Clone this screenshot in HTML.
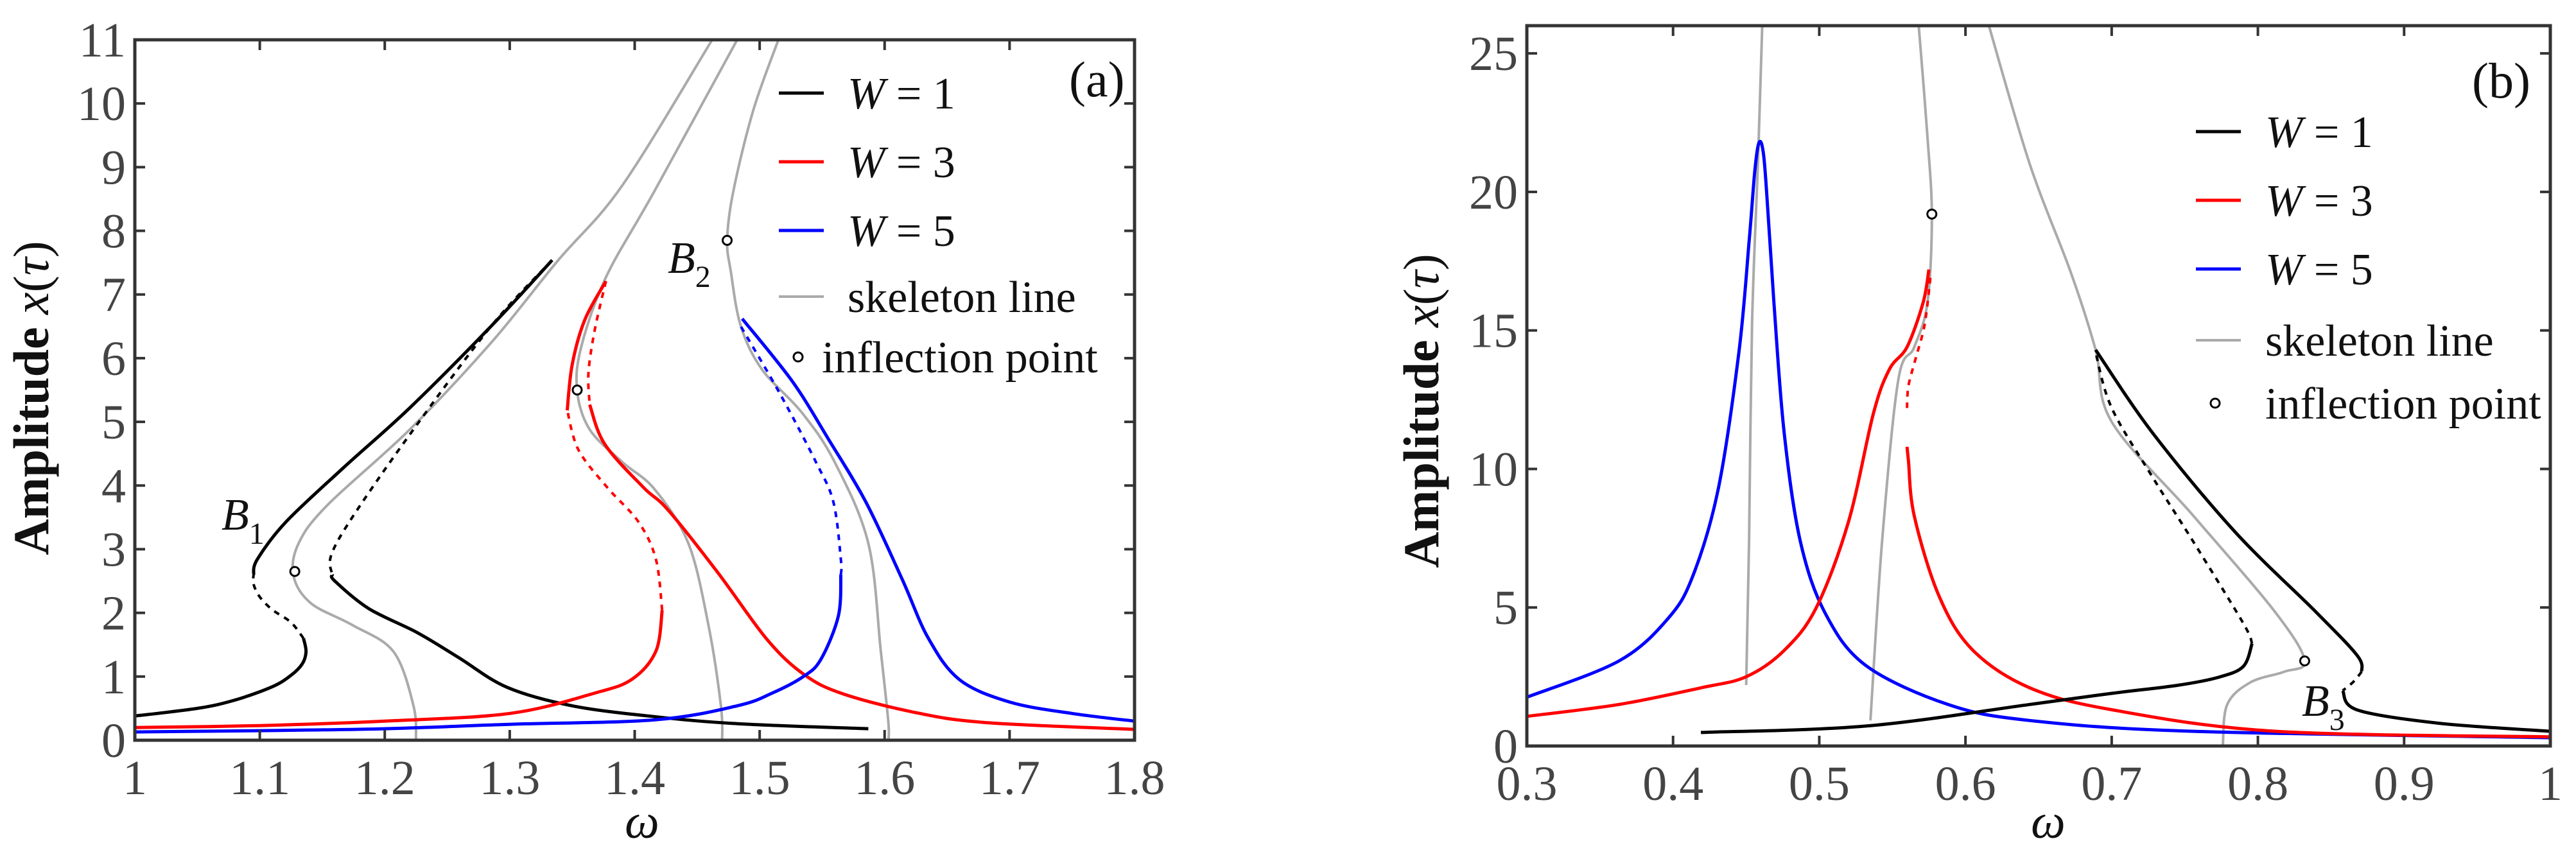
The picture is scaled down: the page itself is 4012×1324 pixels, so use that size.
<!DOCTYPE html>
<html><head><meta charset="utf-8"><style>
html,body{margin:0;padding:0;background:#fff;}
svg{display:block;}
svg text{font-family:"Liberation Serif","DejaVu Serif",serif;}
.tick{font-size:76px;fill:#444;}
.leg{font-size:70px;fill:#111;}
</style></head><body>
<svg id="chart" width="4012" height="1324" viewBox="0 0 4012 1324" xmlns="http://www.w3.org/2000/svg">
<g id="pa"></g>
<g id="pb"></g>
</svg>
<script>
// ---------- Panel (a) data ----------
const aXTicks = [1,1.1,1.2,1.3,1.4,1.5,1.6,1.7,1.8];
const aXTickLabels = ["1","1.1","1.2","1.3","1.4","1.5","1.6","1.7","1.8"];
const aYTicks = [0,1,2,3,4,5,6,7,8,9,10,11];
// W=1
const a1LowOm = [1,1.05,1.08,1.11,1.125,1.134,1.137,1.135];
const a1LowA  = [0.38,0.5,0.63,0.84,1.02,1.2,1.39,1.6];
const a1DashLOm = [1.135,1.125,1.11,1.1,1.095,1.095];
const a1DashLA  = [1.6,1.85,2.05,2.25,2.45,2.6];
const a1UpOm = [1.095,1.098,1.121,1.167,1.22,1.285,1.334];
const a1UpA  = [2.6,2.84,3.43,4.28,5.22,6.5,7.54];
const a1DashUOm = [1.334,1.285,1.22,1.174,1.157,1.158];
const a1DashUA  = [7.54,6.5,4.8,3.5,2.9,2.6];
const a1RightOm = [1.158,1.16,1.187,1.226,1.259,1.298,1.35,1.416,1.482,1.587];
const a1RightA  = [2.6,2.5,2.07,1.69,1.3,0.83,0.54,0.37,0.26,0.18];
// W=3
const a3LowOm = [1,1.1,1.2,1.3,1.368,1.398,1.417,1.422];
const a3LowA  = [0.2,0.23,0.3,0.42,0.74,0.96,1.4,2.04];
const a3DashLOm = [1.422,1.417,1.403,1.378,1.355,1.346];
const a3DashLA  = [2.04,2.84,3.43,3.97,4.56,5.18];
const a3UpOm = [1.346,1.35,1.36,1.377];
const a3UpA  = [5.18,5.9,6.6,7.21];
const a3DashUOm = [1.377,1.368,1.363,1.364];
const a3DashUA  = [7.21,6.44,5.77,5.27];
const a3RightOm = [1.364,1.376,1.407,1.427,1.467,1.506,1.535,1.565,1.621,1.679,1.8];
const a3RightA  = [5.27,4.65,3.97,3.61,2.62,1.58,1.04,0.74,0.45,0.28,0.17];
// W=5
const a5LowOm = [1,1.1,1.2,1.3,1.416,1.482,1.51,1.535,1.549,1.563,1.565];
const a5LowA  = [0.13,0.15,0.18,0.25,0.32,0.54,0.74,1.0,1.27,1.95,2.6];
const a5DashOm = [1.565,1.565,1.559,1.545,1.516,1.484];
const a5DashA  = [2.6,2.84,3.74,4.37,5.45,6.53];
const a5UpOm = [1.486,1.526,1.555,1.585,1.614,1.635,1.66,1.7,1.75,1.8];
const a5UpA  = [6.62,5.64,4.73,3.74,2.53,1.6,0.95,0.6,0.42,0.3];
// skeletons
const aS1Om = [1.225,1.223,1.207,1.174,1.141,1.127,1.131,1.154,1.22,1.285,1.338,1.39,1.462];
const aS1A  = [0,0.54,1.39,1.81,2.15,2.58,3.09,3.69,4.88,6.24,7.52,8.71,11];
const aS2Om = [1.47,1.469,1.459,1.443,1.416,1.39,1.364,1.354,1.357,1.377,1.416,1.482];
const aS2A  = [0,0.54,1.81,3.09,3.94,4.37,4.88,5.48,6.16,7.27,8.63,11];
const aS3Om = [1.603,1.603,1.597,1.587,1.56,1.534,1.502,1.485,1.477,1.474,1.479,1.495,1.515];
const aS3A  = [0,0.28,1.39,3.09,4.37,5.14,5.82,6.5,7.35,7.86,8.63,9.9,11];
const aInflOm = [1.128,1.354,1.474];
const aInflA  = [2.65,5.5,7.85];

// ---------- Panel (b) data ----------
const bXTicks = [0.3,0.4,0.5,0.6,0.7,0.8,0.9,1];
const bXTickLabels = ["0.3","0.4","0.5","0.6","0.7","0.8","0.9","1"];
const bYTicks = [0,5,10,15,20,25];
const b5Om = [0.3,0.363,0.397,0.414,0.431,0.445,0.452,0.456,0.459,0.462,0.465,0.469,0.476,0.487,0.504,0.532,0.588,0.644,0.756,1.0];
const b5A  = [1.76,3.07,4.63,6.2,9.3,14.2,18.2,20.8,21.8,21.3,19.2,16.0,11.3,7.4,4.8,2.9,1.5,0.92,0.53,0.3];
const b3LOm = [0.3,0.363,0.419,0.45,0.476,0.498,0.52,0.537,0.548,0.56,0.571,0.575];
const b3LA  = [1.07,1.5,2.1,2.5,3.45,5.0,8.1,12.0,13.6,14.4,16.0,17.2];
const b3DashOm = [0.576,0.572,0.566,0.561,0.56];
const b3DashA  = [16.9,15.2,14.0,13.0,12.2];
const b3ROm = [0.56,0.561,0.565,0.582,0.605,0.644,0.7,0.812,1.0];
const b3RA  = [10.8,10.3,8.3,5.4,3.46,2.1,1.31,0.53,0.33];
const b1LowOm = [0.419,0.532,0.644,0.7,0.745,0.773,0.79,0.796];
const b1LowA  = [0.49,0.72,1.5,1.9,2.19,2.48,2.87,3.7];
const b1DashOm = [0.796,0.79,0.756,0.728,0.7,0.689];
const b1DashA  = [3.7,4.43,7.36,9.7,12.2,14.2];
const b1UpOm = [0.689,0.728,0.784,0.84,0.868,0.871];
const b1UpA  = [14.3,11.3,7.75,4.82,3.26,2.68];
const b1Dash2Om = [0.871,0.865,0.858];
const b1Dash2A  = [2.68,2.3,2.0];
const b1RightOm = [0.858,0.868,0.924,1.0];
const b1RightA  = [2.0,1.3,0.82,0.53];
const bS1Om = [0.45,0.452,0.454,0.458,0.461];
const bS1A  = [2.2,7.4,15.2,21,26];
const bS2Om = [0.535,0.543,0.554,0.565,0.574,0.577,0.574,0.568];
const bS2A  = [0.92,7.4,13.2,14.4,16,19.1,22,26];
const bS3Om = [0.776,0.779,0.795,0.818,0.832,0.812,0.756,0.7,0.689,0.672,0.644,0.616];
const bS3A  = [0,1.5,2.3,2.68,3.07,4.82,8.3,11.7,14.3,17.1,21,26];
const bInflOm = [0.577,0.832];
const bInflA  = [19.2,3.07];

const NS = "http://www.w3.org/2000/svg";
function mk(tag, attrs, parent){
  const e = document.createElementNS(NS, tag);
  for (const k in attrs) e.setAttribute(k, attrs[k]);
  parent.appendChild(e);
  return e;
}
function axis(x0,x1,y0,y1,d0,d1,v0,v1){
  return {x:w=>x0+(w-d0)/(d1-d0)*(x1-x0), y:a=>y0-(a-v0)/(v1-v0)*(y0-y1), x0,x1,y0,y1};
}
function smoothPath(pts){
  let d = "M"+pts[0][0].toFixed(1)+","+pts[0][1].toFixed(1);
  for (let i=0;i<pts.length-1;i++){
    const p0=pts[i-1]||pts[i], p1=pts[i], p2=pts[i+1], p3=pts[i+2]||p2;
    const c1=[p1[0]+(p2[0]-p0[0])/6, p1[1]+(p2[1]-p0[1])/6];
    const c2=[p2[0]-(p3[0]-p1[0])/6, p2[1]-(p3[1]-p1[1])/6];
    d+="C"+c1[0].toFixed(1)+","+c1[1].toFixed(1)+" "+c2[0].toFixed(1)+","+c2[1].toFixed(1)+" "+p2[0].toFixed(1)+","+p2[1].toFixed(1);
  }
  return d;
}
function curve(g, ax, om, am, color, w, dash, name){
  const pts = om.map((o,i)=>[ax.x(o), ax.y(am[i])]);
  const p = mk("path",{d:smoothPath(pts),fill:"none",stroke:color,"stroke-width":w,"stroke-linejoin":"round"},g);
  if (dash) p.setAttribute("stroke-dasharray", dash);
  
  
}
function circles(g, ax, om, am, name){
  om.forEach((o,i)=>{
    const c = mk("circle",{cx:ax.x(o),cy:ax.y(am[i]),r:7,fill:"#fff",stroke:"#000","stroke-width":3},g);
    
    
  });
}
function frame(g, ax, xt, xl, yt, yl){
  xt.forEach((t,i)=>{
    const X = ax.x(t);
    mk("line",{x1:X,x2:X,y1:ax.y0,y2:ax.y0-16,stroke:"#333","stroke-width":4},g);
    mk("line",{x1:X,x2:X,y1:ax.y1,y2:ax.y1+16,stroke:"#333","stroke-width":4},g);
    const t1 = mk("text",{x:X,y:ax.y0+84,"text-anchor":"middle",class:"tick","font-family":"Liberation Serif, serif"},g);
    t1.textContent = xl[i];
    
    
  });
  yt.forEach((t,i)=>{
    const Y = ax.y(t);
    mk("line",{x1:ax.x0,x2:ax.x0+16,y1:Y,y2:Y,stroke:"#333","stroke-width":4},g);
    mk("line",{x1:ax.x1,x2:ax.x1-16,y1:Y,y2:Y,stroke:"#333","stroke-width":4},g);
    const t1 = mk("text",{x:ax.x0-14,y:Y+26,"text-anchor":"end",class:"tick","font-family":"Liberation Serif, serif"},g);
    t1.textContent = yl[i];
    
    
  });
  const r = mk("rect",{x:ax.x0,y:ax.y1,width:ax.x1-ax.x0,height:ax.y0-ax.y1,fill:"none",stroke:"#333","stroke-width":5},g);
  
  
}
function legend(g, lx, tx, ys, gap){
  const items = [["#000",5,"W","= 1"],["#f00",5,"W","= 3"],["#00f",5,"W","= 5"],["#aaa",4,null,"skeleton line"]];
  items.forEach((it,i)=>{
    const l = mk("line",{x1:lx,x2:lx+70,y1:ys[i],y2:ys[i],stroke:it[0],"stroke-width":it[1]},g);
    
    
    const t = mk("text",{x:tx,y:ys[i]+24,class:"leg","font-family":"Liberation Serif, serif"},g);
    if (it[2]){
      const s = mk("tspan",{"font-style":"italic"},t); s.textContent = "W";
      const s2 = mk("tspan",{},t); s2.textContent = " "+it[3];
    } else t.textContent = it[3];
    
    
  });
  const c = mk("circle",{cx:lx+30,cy:ys[4],r:7,fill:"#fff",stroke:"#000","stroke-width":3},g);
  
  
  const t = mk("text",{x:tx-gap,y:ys[4]+24,class:"leg","font-family":"Liberation Serif, serif"},g);
  t.textContent = "inflection point";
  
  
}
function label(g, x, y, main, sub, name){
  const t = mk("text",{x:x,y:y,"font-size":70,"font-style":"italic",fill:"#111","font-family":"Liberation Serif, serif"},g);
  t.textContent = main;
  const s = mk("tspan",{dy:22,"font-size":48,"font-style":"normal"},t); s.textContent = sub;
  
  
}
function ylabel(g, x, y){
  const t = mk("text",{x:0,y:0,"font-size":78,"font-weight":"bold",fill:"#111","text-anchor":"middle","font-family":"Liberation Serif, serif",transform:"translate("+x+","+y+") rotate(-90)"},g);
  const a = mk("tspan",{},t); a.textContent = "Amplitude ";
  const b = mk("tspan",{"font-style":"italic","font-weight":"normal"},t); b.textContent = "x";
  const c = mk("tspan",{"font-weight":"normal"},t); c.textContent = "(";
  const d = mk("tspan",{"font-style":"italic","font-weight":"normal"},t); d.textContent = "τ";
  const e = mk("tspan",{"font-weight":"normal"},t); e.textContent = ")";
  
  
}
function xlabel(g, x, y){
  const t = mk("text",{x:x,y:y,"font-size":76,"font-style":"italic",fill:"#111","text-anchor":"middle","font-family":"Liberation Serif, serif"},g);
  t.textContent = "ω";
  
  
}

// ---- Panel a ----
const ga = document.getElementById("pa");
const axA = axis(210,1767,1153,62,1,1.8,0,11);
curve(ga,axA,aS1Om,aS1A,"#aaa",4,null,"skeleton-line-1");
curve(ga,axA,aS2Om,aS2A,"#aaa",4,null,"skeleton-line-2");
curve(ga,axA,aS3Om,aS3A,"#aaa",4,null,"skeleton-line-3");
curve(ga,axA,a1LowOm,a1LowA,"#000",5,null,"w1-stable-low");
curve(ga,axA,a1DashLOm,a1DashLA,"#000",4,"9 9","w1-unstable-low");
curve(ga,axA,a1UpOm,a1UpA,"#000",5,null,"w1-stable-upper");
curve(ga,axA,a1DashUOm,a1DashUA,"#000",4,"9 9","w1-unstable-upper");
curve(ga,axA,a1RightOm,a1RightA,"#000",5,null,"w1-stable-right");
curve(ga,axA,a3LowOm,a3LowA,"#f00",5,null,"w3-stable-low");
curve(ga,axA,a3DashLOm,a3DashLA,"#f00",4,"9 9","w3-unstable-left");
curve(ga,axA,a3UpOm,a3UpA,"#f00",5,null,"w3-stable-upper");
curve(ga,axA,a3DashUOm,a3DashUA,"#f00",4,"9 9","w3-unstable-upper");
curve(ga,axA,a3RightOm,a3RightA,"#f00",5,null,"w3-stable-right");
curve(ga,axA,a5LowOm,a5LowA,"#00f",5,null,"w5-stable-low");
curve(ga,axA,a5DashOm,a5DashA,"#00f",4,"9 9","w5-unstable");
curve(ga,axA,a5UpOm,a5UpA,"#00f",5,null,"w5-stable-upper");
circles(ga,axA,aInflOm,aInflA,"inflection-point");
frame(ga,axA,aXTicks,aXTickLabels,aYTicks,aYTicks.map(String));
legend(ga,1213,1320,[145,252,359,462,556],40);
label(ga,345,825,"B","1","label-b1");
label(ga,1040,425,"B","2","label-b2");
(function(){const t=mk("text",{x:1665,y:150,"font-size":78,fill:"#111","font-family":"Liberation Serif, serif"},ga);t.textContent="(a)";})();
ylabel(ga,75,620);
xlabel(ga,1000,1305);

// ---- Panel b ----
const gb = document.getElementById("pb");
const axB = axis(2378,3972,1162,40,0.3,1.0,0,26);
curve(gb,axB,bS1Om,bS1A,"#aaa",4,null,"skeleton-line-1");
curve(gb,axB,bS2Om,bS2A,"#aaa",4,null,"skeleton-line-2");
curve(gb,axB,bS3Om,bS3A,"#aaa",4,null,"skeleton-line-3");
curve(gb,axB,b5Om,b5A,"#00f",5,null,"w5-response");
curve(gb,axB,b3LOm,b3LA,"#f00",5,null,"w3-stable-left");
curve(gb,axB,b3DashOm,b3DashA,"#f00",4,"9 9","w3-unstable");
curve(gb,axB,b3ROm,b3RA,"#f00",5,null,"w3-stable-right");
curve(gb,axB,b1LowOm,b1LowA,"#000",5,null,"w1-stable-low");
curve(gb,axB,b1DashOm,b1DashA,"#000",4,"9 9","w1-unstable");
curve(gb,axB,b1UpOm,b1UpA,"#000",5,null,"w1-stable-upper");
curve(gb,axB,b1Dash2Om,b1Dash2A,"#000",4,"9 9","w1-unstable-2");
curve(gb,axB,b1RightOm,b1RightA,"#000",5,null,"w1-stable-right");
circles(gb,axB,bInflOm,bInflA,"inflection-point");
frame(gb,axB,bXTicks,bXTickLabels,bYTicks,bYTicks.map(String));
legend(gb,3420,3528,[205,312,419,530,628],0);
label(gb,3585,1115,"B","3","label-b3");
(function(){const t=mk("text",{x:3850,y:152,"font-size":78,fill:"#111","font-family":"Liberation Serif, serif"},gb);t.textContent="(b)";})();
ylabel(gb,2240,640);
xlabel(gb,3190,1305);
</script>
</body></html>
